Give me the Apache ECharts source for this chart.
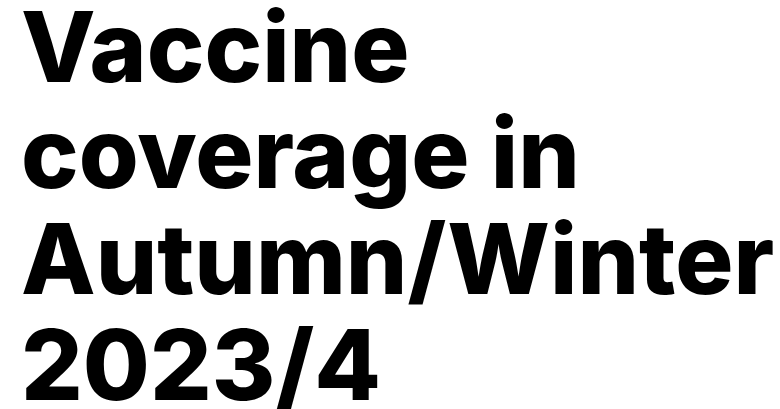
<!DOCTYPE html>
<html>
<head>
<meta charset="utf-8">
<script src="https://cdn.jsdelivr.net/npm/echarts@6/dist/echarts.min.js"></script>
<style>
html,body{margin:0;padding:0;background:#fff;}
#chart{width:780px;height:409px;}
</style>
</head>
<body>
<div id="chart"></div>
<script>
const titleLines = ["Vaccine", "coverage in", "Autumn/Winter", "2023/4"];

const chart = echarts.init(document.getElementById('chart'), null, {renderer: 'canvas'});
chart.setOption({
  backgroundColor: '#ffffff',
  animation: false,
  title: {
    text: titleLines.join('\n'),
    left: 21,
    top: 0,
    padding: 0,
    textStyle: {
      fontFamily: 'Inter',
      fontWeight: 800,
      fontSize: 97,
      lineHeight: 106,
      color: '#000000'
    }
  },
  series: []
});
</script>
</body>
</html>
